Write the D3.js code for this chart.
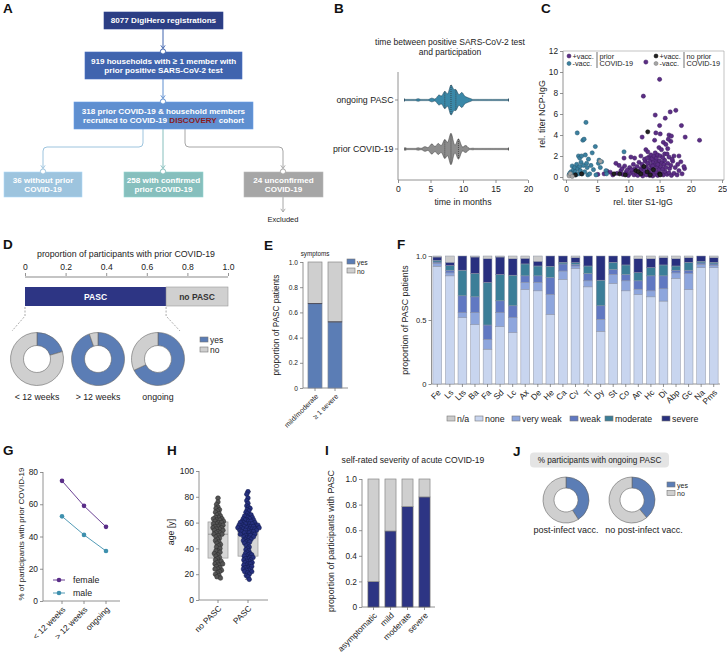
<!DOCTYPE html>
<html><head><meta charset="utf-8">
<script src="https://cdn.jsdelivr.net/npm/d3@7"></script>
<style>
body{margin:0;background:#fff}
svg{display:block;font-family:"Liberation Sans",Arial,sans-serif;-webkit-font-smoothing:antialiased}
</style></head><body>
<svg id="fig" width="727" height="655"></svg>
<script>
// ================= DATA =================
const flowLines = [
  ["8077 DigiHero registrations"],
  ["919 households with \u2265 1 member with", "prior positive SARS-CoV-2 test"],
  ["318 prior COVID-19 & household members", "recruited to COVID-19 |DISCOVERY| cohort"],
  ["36 without prior", "COVID-19"],
  ["258 with confirmed", "prior COVID-19"],
  ["24 unconfirmed", "COVID-19"]
];
const excludedLabel = "Excluded";

const bTitle = ["time between positive SARS-CoV-2 test", "and participation"];
const violinGroups = ["ongoing PASC", "prior COVID-19"];
const ongoingMonths = [1.0, 3.1, 4.2, 5.2, 6.3, 7.2, 8.15, 8.9, 9.8, 10.5, 11.1, 13, 17];
const ongoingCounts = [1, 2, 1, 3, 8, 14, 24, 16, 12, 4, 2, 0.5, 0.5];
const priorMonths = [1.05, 2.1, 3.1, 4.15, 5.2, 6.2, 7.2, 8.15, 9.3, 10.4, 11.5, 12.5, 14, 15.5, 17];
const priorCounts = [3, 1, 3, 6, 13, 14, 24, 40, 26, 9, 2, 1.5, 1, 0.5, 0.5];
const bTicks = [0, 5, 10, 15, 20];

const cPriorVacc = [[5.1,0.25],[6.1,0.3],[6.6,0.55],[7.1,0.45],[7.5,0.2],[8.2,0.35],[8.8,0.6],[9.1,0.25],[9.6,0.45],[10.0,0.15],[10.3,0.35],[10.6,0.55],[10.9,0.2],[11.3,0.3],[11.5,0.15],[11.8,0.45],[12.1,0.25],[12.3,0.1],[12.6,0.35],[12.9,0.2],[13.2,0.5],[13.4,0.15],[13.7,0.35],[13.9,0.1],[14.2,0.25],[14.5,0.45],[14.7,0.15],[15.3,0.35],[15.6,0.2],[15.9,0.5],[16.2,0.25],[16.5,0.4],[16.9,0.15],[17.3,0.35],[17.8,0.2],[18.6,0.3],[19.0,0.8],[18.9,1.0],[18.1,0.6],
  [8.0,1.3],[8.5,1.1],[9.0,0.8],[9.4,1.05],[10.2,0.9],[10.8,1.2],[11.0,0.75],[11.4,1.0],[11.7,1.4],[12.0,0.8],[12.2,1.2],[12.5,0.65],[12.7,1.5],[12.9,0.95],[13.1,1.3],[13.3,0.7],[13.5,1.55],[13.6,1.1],[13.8,0.85],[14.0,1.4],[14.1,0.65],[14.3,1.15],[14.4,1.6],[14.6,0.9],[14.8,1.3],[14.9,0.7],[15.0,1.55],[15.2,1.0],[15.4,1.35],[15.5,0.75],[15.7,1.2],[15.8,1.6],[16.0,0.9],[16.3,1.3],[16.6,0.8],[16.8,1.1],[17.1,1.5],[17.5,0.9],[17.9,1.2],[18.4,1.45],[12.4,0.95],[13.9,1.05],[14.7,1.2],[11.9,0.6],[10.5,0.7],[9.8,0.65],
  [9.3,1.8],[10.4,1.9],[11.0,1.8],[12.0,2.0],[12.6,1.7],[12.8,2.6],[13.1,2.4],[13.3,1.9],[13.6,2.1],[13.8,1.75],[14.1,2.0],[14.3,2.3],[14.5,1.8],[14.7,2.1],[14.9,2.8],[15.1,2.0],[15.3,2.6],[15.5,1.85],[15.8,2.2],[16.2,2.2],[16.3,2.7],[16.5,1.9],[17.3,2.0],[18.1,2.0],[17.0,1.7],[13.0,1.8],
  [15.0,9.3],[12.4,7.7],[17.6,6.35],[16.7,6.2],[15.9,5.6],[14.3,5.9],[18.5,4.9],[15.0,4.9],[19.1,3.8],[21.4,3.5],[12.2,3.8],[14.4,4.2],[15.1,4.1],[16.5,4.0],[16.9,3.9],[14.2,3.5],[15.6,3.3],[16.0,3.1],[16.8,3.4],[16.4,3.6],[12.8,10.95]];
const cPriorUnvacc = [[0.5,0.2],[0.6,0.35],[0.8,0.5],[0.9,0.15],[1.0,1.05],[1.1,0.4],[1.2,0.7],[1.3,0.25],[1.4,0.9],[1.5,0.5],[1.6,0.2],[1.7,1.2],[1.8,4.2],[1.9,0.8],[2.0,2.0],[2.1,0.3],[2.2,1.0],[2.2,1.8],[2.3,0.6],[2.4,1.4],[2.5,2.0],[2.6,0.3],[2.7,3.5],[2.8,1.1],[2.9,3.6],[3.0,0.5],[3.1,2.1],[3.2,5.2],[3.3,1.3],[3.4,0.9],[3.5,0.2],[3.6,1.7],[3.8,0.3],[4.0,1.1],[4.2,2.3],[4.4,0.7],[4.7,2.9],[4.8,0.2],[5.2,1.3],[5.3,1.6],[5.5,0.9],[5.7,1.45],[6.4,0.6],[6.5,0.3],[9.3,2.4]];
const cNoPriorVacc = [[1.5,0.2],[2.5,0.3],[7.7,0.3],[8.6,0.3],[9.5,0.2],[11.2,0.6],[11.6,0.5],[12.0,0.3],[12.5,1.0],[13.0,0.5],[13.1,4.3],[13.5,0.2],[14.0,0.7],[15.0,0.3],[15.1,0.2]];
const cNoPriorUnvacc = [[0.5,0.1],[0.7,0.3],[1.0,0.05],[5.5,1.5]];
const cXTicks = [0, 5, 10, 15, 20, 25];
const cYTicks = [0, 2, 4, 6, 8, 10, 12];

const dTitle = "proportion of participants with prior COVID-19";
const dTicks = [0, 0.2, 0.4, 0.6, 0.8, 1.0];
const dPascShare = 0.695;
const dBarLabels = ["PASC", "no PASC"];
const dDonutLabels = ["< 12 weeks", "> 12 weeks", "ongoing"];
const dYes = [0.205, 0.947, 0.68];
const dNo = [0.795, 0.053, 0.32];

const eCats = ["mild/moderate", "\u2265 1 severe"];
const eYes = [0.67, 0.525];
const eNo = [0.33, 0.475];
const eTicks = [0, 0.2, 0.4, 0.6, 0.8, 1.0];

const fCats = ["Fe","Ls","Lts","Ba","Fa","Sd","Lc","Ax","De","He","Ca","Cv","Ti","Dy","St","Co","An","Hc","Di","Abp","Gc","Na","Pms"];
const fNone     = [.920,.845,.518,.464,.272,.448,.402,.738,.728,.544,.816,.902,.759,.412,.785,.728,.699,.681,.648,.824,.738,.909,.909];
const fVeryWeak = [.023,.023,.039,.093,.075,.109,.116,.055,.065,.155,.067,.020,.047,.093,.070,.078,.042,.047,.096,.044,.125,.026,.018];
const fWeak     = [.010,.021,.132,.124,.114,.093,.093,.052,.052,.133,.055,.013,.057,.106,.039,.049,.065,.117,.101,.021,.026,.011,.011];
const fModerate = [.013,.036,.200,.182,.332,.205,.239,.093,.077,.088,.013,.013,.059,.200,.057,.075,.064,.064,.085,.033,.062,.013,.013];
const fSevere   = [.026,.026,.111,.129,.186,.137,.129,.044,.037,.080,.049,.039,.078,.189,.049,.070,.109,.070,.057,.057,.036,.041,.036];
const fNA       = [.008,.049,.000,.008,.021,.008,.021,.018,.041,.000,.000,.013,.000,.000,.000,.000,.021,.021,.013,.021,.013,.000,.013];
const fSeriesNames = ["n/a", "none", "very weak", "weak", "moderate", "severe"];
const fTicks = [0, 0.5, 1.0];

const gCats = ["< 12 weeks", "> 12 weeks", "ongoing"];
const gFemale = [74.5, 59, 46];
const gMale = [52.5, 41, 31];
const gSeriesNames = ["female", "male"];
const gTicks = [0, 20, 40, 60, 80];

const hCats = ["no PASC", "PASC"];
const hAgeNoPasc = [17,18,19,20,21,22,23,24,24,25,26,27,28,28,29,30,30,31,32,33,34,35,36,37,38,38,40,41,42,43,44,45,46,47,48,49,50,51,51,52,52,53,54,54,55,55,56,56,57,57,58,58,59,59,60,60,61,61,62,62,63,63,64,64,65,66,67,68,69,70,71,72,74,76,79];
const hAgePasc = [16,18,19,20,21,22,22,23,23,24,24,25,25,26,26,27,27,28,28,29,29,30,30,31,31,32,32,33,33,34,34,35,35,36,36,37,38,39,40,41,42,43,44,45,45,46,46,47,47,48,48,49,49,50,50,50,51,51,51,52,52,52,53,53,53,54,54,54,54,55,55,55,55,56,56,56,56,57,57,57,57,58,58,58,58,59,59,59,59,60,60,60,61,61,61,62,62,62,63,63,64,64,65,65,66,66,67,68,69,70,71,72,73,75,77,79,82,84];
const hTicks = [0, 20, 40, 60, 80, 100];

const iTitle = "self-rated severity of acute COVID-19";
const iCats = ["asymptomatic", "mild", "moderate", "severe"];
const iYes = [0.198, 0.594, 0.784, 0.86];
const iNo = [0.802, 0.406, 0.216, 0.14];
const iTicks = [0, 0.2, 0.4, 0.6, 0.8, 1.0];

const jTitle = "% participants with ongoing PASC";
const jLabels = ["post-infect vacc.", "no post-infect vacc."];
const jYes = [0.41, 0.39];
const jNo = [0.59, 0.61];

// ================= HELPERS =================
const svg = d3.select("#fig");
svg.append("rect").attr("width", 727).attr("height", 655).attr("fill", "#fff");
const AX = "#777", TXT = "#222";
const YES = "#5b7db5", NO = "#cfcfcf", NAVY = "#2d3584";

function line(x1, y1, x2, y2, c = AX, w = 0.8, dash = null) {
  const l = svg.append("line").attr("x1", x1).attr("y1", y1).attr("x2", x2).attr("y2", y2)
    .attr("stroke", c).attr("stroke-width", w);
  if (dash) l.attr("stroke-dasharray", dash);
  return l;
}
function txt(x, y, s, o = {}) {
  const t = svg.append("text").attr("x", x).attr("y", y).text(s)
    .attr("font-size", o.fs || 8.8).attr("fill", o.fill || TXT)
    .attr("text-anchor", o.anchor || "start");
  if (o.bold) t.attr("font-weight", "bold");
  if (o.rot) t.attr("transform", `rotate(${o.rot},${x},${y})`);
  return t;
}
function letter(x, y, s) { txt(x, y, s, { fs: 13.5, bold: true, fill: "#111" }); }
function styleAxis(fs) {
  return g => {
    g.select(".domain").remove();
    g.selectAll(".tick line").attr("stroke", AX).attr("stroke-width", 0.8);
    g.selectAll(".tick text").attr("fill", TXT).attr("font-size", fs).attr("font-family", '"Liberation Sans",Arial,sans-serif');
  };
}
function rotLabels(cats, xs, y, fs) {
  cats.forEach(c => {
    svg.append("text").text(c).attr("font-size", fs).attr("fill", TXT).attr("text-anchor", "end")
      .attr("dy", "0.35em")
      .attr("transform", `translate(${xs(c) + 2},${y}) rotate(-45)`);
  });
}
function legendSq(x, y, color, label, fs) {
  svg.append("rect").attr("x", x).attr("y", y - 3).attr("width", 8).attr("height", 5)
    .attr("fill", color).attr("stroke", "#777").attr("stroke-width", 0.6);
  txt(x + 10, y + 2.6, label, { fs });
}
function donut(cx, cy, ro, ri, yes, no) {
  const pie = d3.pie().sort(null).value(d => d.v);
  const arc = d3.arc().innerRadius(ri).outerRadius(ro);
  const g = svg.append("g").attr("transform", `translate(${cx},${cy})`);
  g.selectAll("path").data(pie([{ v: yes, c: YES }, { v: no, c: NO }])).join("path")
    .attr("d", arc).attr("fill", d => d.data.c).attr("stroke", "#666").attr("stroke-width", 0.6);
}
const fmt1 = d => d === 0 ? "0" : d3.format(".1f")(d);

// ================= PANEL A =================
letter(3, 13, "A");
function flowBox(x, y, w, h, fill, lines) {
  svg.append("rect").attr("x", x).attr("y", y).attr("width", w).attr("height", h).attr("fill", fill)
    .attr("stroke", d3.color(fill).brighter(0.3)).attr("stroke-width", 0.6);
  const cx = x + w / 2;
  const base = y + h / 2 - (lines.length - 1) * 4.5 + 2.9;
  lines.forEach((s, i) => {
    const t = svg.append("text").attr("x", cx).attr("y", base + i * 9).attr("text-anchor", "middle")
      .attr("font-size", 8.1).attr("font-weight", "bold").attr("fill", "#fff");
    s.split("|").forEach((p, k) => t.append("tspan").text(p).attr("fill", k === 1 ? "#8b1a1a" : "#fff"));
  });
}
function joint(x, y, c) {
  svg.append("circle").attr("cx", x).attr("cy", y).attr("r", 2.6).attr("fill", "#fff").attr("stroke", c).attr("stroke-width", 1);
}
function arrowHead(x, y, c) {
  svg.append("path").attr("d", `M${x - 2.2},${y - 3.2}L${x},${y}L${x + 2.2},${y - 3.2}`).attr("fill", "none").attr("stroke", c).attr("stroke-width", 0.9);
}
const fc = ["#2c3e84", "#4064ae", "#5f8fd0", "#9dc4de", "#86bfbd", "#a6a6a6"];
line(163, 29, 163, 48.5, fc[1], 1); arrowHead(163, 48.5, fc[1]);
line(163, 79, 163, 98.5, fc[2], 1); arrowHead(163, 98.5, fc[2]);
svg.append("path").attr("d", "M143,129 V143 Q143,147 139,147 H47 Q43,147 43,151 V168.5").attr("fill", "none").attr("stroke", fc[3]).attr("stroke-width", 1);
arrowHead(43, 168.5, fc[3]);
line(163, 129, 163, 168.5, fc[4], 1); arrowHead(163, 168.5, fc[4]);
svg.append("path").attr("d", "M185,129 V143 Q185,147 189,147 H279 Q283,147 283,151 V168.5").attr("fill", "none").attr("stroke", fc[5]).attr("stroke-width", 1);
arrowHead(283, 168.5, fc[5]);
line(283, 197, 283, 212, fc[5], 1); arrowHead(283, 212, fc[5]);
flowBox(104, 12, 119, 17, fc[0], flowLines[0]);
flowBox(85, 52, 157, 27, fc[1], flowLines[1]);
flowBox(74, 102, 179, 27, fc[2], flowLines[2]);
flowBox(4, 172, 78, 25, fc[3], flowLines[3]);
flowBox(124, 172, 79, 25, fc[4], flowLines[4]);
flowBox(244, 172, 79, 25, fc[5], flowLines[5]);
joint(163, 51.5, fc[1]); joint(163, 101.5, fc[2]);
joint(43, 171.5, fc[3]); joint(163, 171.5, fc[4]); joint(283, 171.5, fc[5]);
txt(283, 222, excludedLabel, { fs: 7.5, anchor: "middle" });

// ================= PANEL B =================
letter(334, 13, "B");
txt(450, 45, bTitle[0], { anchor: "middle", fs: 8.5 });
txt(450, 54.5, bTitle[1], { anchor: "middle", fs: 8.5 });
const xB = d3.scaleLinear().domain([0, 20]).range([398, 528]);
const yB = d3.scalePoint().domain(violinGroups).range([100, 149]);
line(398, 72, 398, 180); line(398, 180, 528, 180);
violinGroups.forEach(g => { line(395, yB(g), 398, yB(g)); txt(393.5, yB(g) + 3, g, { anchor: "end" }); });
svg.append("g").attr("transform", "translate(0,180)")
  .call(d3.axisBottom(xB).tickValues(bTicks).tickSize(3).tickPadding(3).tickFormat(d3.format("d"))).call(styleAxis(8.6));
txt(463, 205, "time in months", { anchor: "middle" });
function violin(months, counts, cy, maxW, fill, stroke, quart) {
  const bw = 0.3;
  const dens = x => d3.sum(months, (m, i) => counts[i] * Math.exp(-0.5 * ((x - m) / bw) ** 2));
  const lo = d3.min(months), hi = d3.max(months);
  const xs = d3.range(lo, hi + 0.001, 0.04);
  const vals = xs.map(x => [x, dens(x)]);
  const mx = d3.max(vals, d => d[1]);
  const w = v => Math.max(v / mx * maxW, 0.6);
  const area = d3.area().x(d => xB(d[0])).y0(d => cy - w(d[1])).y1(d => cy + w(d[1])).curve(d3.curveBasis);
  svg.append("path").attr("d", area(vals)).attr("fill", fill).attr("stroke", stroke).attr("stroke-width", 0.6);
  quart.forEach(q => { const h = w(dens(q)); line(xB(q), cy - h, xB(q), cy + h, "#333", 0.7, "1,1"); });
  line(xB(lo), cy - 1.5, xB(lo), cy + 1.5, stroke, 0.8);
  line(xB(hi), cy - 1.5, xB(hi), cy + 1.5, stroke, 0.8);
}
violin(ongoingMonths, ongoingCounts, yB(violinGroups[0]), 15, "#3a88a8", "#24465a", [7.2, 8.15, 8.9]);
violin(priorMonths, priorCounts, yB(violinGroups[1]), 15.5, "#8c8c8c", "#444", [7.2, 8.15, 9.3]);

// ================= PANEL C =================
letter(541, 13, "C");
const xC = d3.scaleLinear().domain([0, 25]).range([566, 722]);
const yC = d3.scaleLinear().domain([0, 12]).range([177, 51]);
line(563, 51, 563, 180); line(563, 180, 724, 180);
line(563, 51, 724, 51, "#aaa", 0.7); line(724, 51, 724, 180, "#aaa", 0.7);
svg.append("g").attr("transform", "translate(563,0)").call(d3.axisLeft(yC).tickValues(cYTicks).tickSize(3).tickPadding(2)).call(styleAxis(8.3));
svg.append("g").attr("transform", "translate(0,180)").call(d3.axisBottom(xC).tickValues(cXTicks).tickSize(3).tickPadding(3)).call(styleAxis(8.3));
txt(545, 114, "rel. titer NCP-IgG", { anchor: "middle", rot: -90 });
txt(643, 205, "rel. titer S1-IgG", { anchor: "middle" });
function dots(data, fill, stroke) {
  svg.append("g").selectAll("circle").data(data).join("circle")
    .attr("cx", d => xC(d[0])).attr("cy", d => yC(d[1])).attr("r", 2.1)
    .attr("fill", fill).attr("stroke", stroke).attr("stroke-width", 0.5);
}
const cCol = { pv: ["#5c2e86", "#3a1a5c"], pu: ["#3c81a0", "#22556c"], nv: ["#222", "#000"], nu: ["#a5a5a5", "#777"] };
dots(cPriorVacc, ...cCol.pv);
dots(cPriorUnvacc, ...cCol.pu);
dots(cNoPriorVacc, ...cCol.nv);
dots(cNoPriorUnvacc, ...cCol.nu);
function cLeg(x, y, col, label) {
  svg.append("circle").attr("cx", x).attr("cy", y).attr("r", 2).attr("fill", col[0]).attr("stroke", col[1]).attr("stroke-width", 0.5);
  txt(x + 3.5, y + 2.6, label, { fs: 7.3 });
}
cLeg(569, 56, cCol.pv, "+vacc."); cLeg(569, 63.5, cCol.pu, "-vacc.");
line(597, 52, 597, 68, "#333", 0.7);
txt(599.5, 58.5, "prior", { fs: 7.3 }); txt(599.5, 66, "COVID-19", { fs: 7.3 });
cLeg(656, 56, cCol.nv, "+vacc."); cLeg(656, 63.5, cCol.nu, "-vacc.");
line(684, 52, 684, 68, "#333", 0.7);
txt(686.5, 58.5, "no prior", { fs: 7.3 }); txt(686.5, 66, "COVID-19", { fs: 7.3 });

// ================= PANEL D =================
letter(3, 249, "D");
txt(126, 257, dTitle, { anchor: "middle" });
const xD = d3.scaleLinear().domain([0, 1]).range([25, 228]);
line(25, 277, 228, 277, "#c4c4c4", 2.2);
svg.append("g").attr("transform", "translate(0,276)")
  .call(d3.axisTop(xD).tickValues(dTicks).tickSize(3).tickPadding(3).tickFormat(fmt1))
  .call(styleAxis(8.6));
svg.append("rect").attr("x", xD(0)).attr("y", 287).attr("width", xD(dPascShare) - xD(0)).attr("height", 19).attr("fill", NAVY);
svg.append("rect").attr("x", xD(dPascShare)).attr("y", 287).attr("width", xD(1) - xD(dPascShare)).attr("height", 19).attr("fill", "#d0d0d0").attr("stroke", "#999").attr("stroke-width", 0.6);
txt((xD(0) + xD(dPascShare)) / 2, 300, dBarLabels[0], { fs: 8.5, bold: true, fill: "#fff", anchor: "middle" });
txt((xD(dPascShare) + xD(1)) / 2, 300, dBarLabels[1], { fs: 8.5, bold: true, fill: "#333", anchor: "middle" });
svg.append("path").attr("d", `M${xD(0)},307 V316 L12,331`).attr("fill", "none").attr("stroke", "#888").attr("stroke-width", 0.7).attr("stroke-dasharray", "2,1.5");
svg.append("path").attr("d", `M${xD(dPascShare)},307 V316 L180,331`).attr("fill", "none").attr("stroke", "#888").attr("stroke-width", 0.7).attr("stroke-dasharray", "2,1.5");
const dCx = [37, 98, 158];
dDonutLabels.forEach((l, i) => {
  donut(dCx[i], 359, 26.5, 13.5, dYes[i], dNo[i]);
  txt(dCx[i], 400, l, { anchor: "middle" });
});
legendSq(200, 340, YES, "yes", 8.5); legendSq(200, 350, NO, "no", 8.5);

// ================= PANEL E =================
letter(264, 250, "E");
txt(315, 256, "symptoms", { anchor: "middle", fs: 6.3 });
const yE = d3.scaleLinear().domain([0, 1]).range([388, 262]);
const xE = d3.scaleBand().domain(eCats).range([305, 345]).paddingInner(0.3).paddingOuter(0.15);
line(303, 262, 303, 388); line(303, 388, 348, 388);
svg.append("g").attr("transform", "translate(303,0)")
  .call(d3.axisLeft(yE).tickValues(eTicks).tickSize(3).tickPadding(2).tickFormat(fmt1)).call(styleAxis(6.6));
eCats.forEach((c, i) => {
  svg.append("rect").attr("x", xE(c)).attr("y", yE(eYes[i])).attr("width", xE.bandwidth()).attr("height", yE(0) - yE(eYes[i])).attr("fill", YES).attr("stroke", "#7b8594").attr("stroke-width", 0.7);
  svg.append("rect").attr("x", xE(c)).attr("y", yE(eYes[i] + eNo[i])).attr("width", xE.bandwidth()).attr("height", yE(eYes[i]) - yE(eYes[i] + eNo[i])).attr("fill", NO).attr("stroke", "#888").attr("stroke-width", 0.7);
  line(xE(c), yE(eYes[i]), xE(c) + xE.bandwidth(), yE(eYes[i]), "#445", 0.9);
  line(xE(c) + xE.bandwidth() / 2, 388, xE(c) + xE.bandwidth() / 2, 391);
});
rotLabels(eCats, c => xE(c) + xE.bandwidth() / 2, 395, 7);
txt(279, 325, "proportion of PASC patients", { anchor: "middle", rot: -90, fs: 8.2 });
legendSq(347, 262, YES, "yes", 6.8); legendSq(347, 271, NO, "no", 6.8);

// ================= PANEL F =================
letter(397, 249, "F");
const yF = d3.scaleLinear().domain([0, 1]).range([384, 256]);
const xF = d3.scaleBand().domain(fCats).range([431, 720]).paddingInner(0.3).paddingOuter(0.15);
line(431.5, 256, 431.5, 384); line(431.5, 384, 720, 384);
svg.append("g").attr("transform", "translate(431.5,0)")
  .call(d3.axisLeft(yF).tickValues(fTicks).tickSize(3).tickPadding(2).tickFormat(fmt1)).call(styleAxis(7.6));
const fRows = fCats.map((c, i) => ({ cat: c, none: fNone[i], vw: fVeryWeak[i], weak: fWeak[i], mod: fModerate[i], sev: fSevere[i], na: fNA[i] }));
const fKeys = ["none", "vw", "weak", "mod", "sev", "na"];
const fColors = { na: "#cbcbcb", none: "#c8d5ef", vw: "#8ea6dd", weak: "#6078c2", mod: "#3b7e98", sev: "#28307f" };
const fStack = d3.stack().keys(fKeys)(fRows);
fStack.forEach(layer => {
  svg.append("g").selectAll("rect").data(layer).join("rect")
    .attr("x", d => xF(d.data.cat)).attr("y", d => yF(d[1])).attr("width", xF.bandwidth())
    .attr("height", d => Math.max(0, yF(d[0]) - yF(d[1])))
    .attr("fill", fColors[layer.key]).attr("stroke", "#8d93a3").attr("stroke-width", 0.5);
});
fCats.forEach(c => line(xF(c) + xF.bandwidth() / 2, 384, xF(c) + xF.bandwidth() / 2, 387));
rotLabels(fCats, c => xF(c) + xF.bandwidth() / 2, 391, 8.4);
txt(408, 320, "proportion of PASC patients", { anchor: "middle", rot: -90, fs: 8.9 });
const fLegX = [447, 475, 512, 570, 605, 662];
const fLegKeys = ["na", "none", "vw", "weak", "mod", "sev"];
fSeriesNames.forEach((n, i) => legendSq(fLegX[i], 419, fColors[fLegKeys[i]], n, 8.8));

// ================= PANEL G =================
letter(3, 455, "G");
const yG = d3.scaleLinear().domain([0, 80]).range([601, 472]);
const xG = d3.scalePoint().domain(gCats).range([51, 117]).padding(0.5);
line(43, 472, 43, 601); line(43, 601, 120, 601);
svg.append("g").attr("transform", "translate(43,0)").call(d3.axisLeft(yG).tickValues(gTicks).tickSize(3).tickPadding(2)).call(styleAxis(8.4));
gCats.forEach(c => line(xG(c), 601, xG(c), 604));
rotLabels(gCats, c => xG(c), 608, 8.3);
txt(24, 534, "% of participants with prior COVID-19", { anchor: "middle", rot: -90, fs: 8 });
[[gFemale, "#5a2d88"], [gMale, "#3e90ae"]].forEach(([vals, col]) => {
  svg.append("path").attr("d", d3.line().x((d, i) => xG(gCats[i])).y(d => yG(d))(vals)).attr("fill", "none").attr("stroke", col).attr("stroke-width", 0.9);
  svg.append("g").selectAll("circle").data(vals).join("circle").attr("cx", (d, i) => xG(gCats[i])).attr("cy", d => yG(d)).attr("r", 2.3).attr("fill", col);
});
[["#5a2d88", 580], ["#3e90ae", 593]].forEach(([col, y], i) => {
  line(53, y, 65, y, col, 0.9);
  svg.append("circle").attr("cx", 59).attr("cy", y).attr("r", 2.3).attr("fill", col);
  txt(73, y + 3, gSeriesNames[i], { fs: 8.8 });
});

// ================= PANEL H =================
letter(167, 455, "H");
const yH = d3.scaleLinear().domain([0, 100]).range([600, 471]);
const xH = d3.scalePoint().domain(hCats).range([203, 263]).padding(0.5);
line(199, 471, 199, 600); line(199, 600, 268, 600);
svg.append("g").attr("transform", "translate(199,0)").call(d3.axisLeft(yH).tickValues(hTicks).tickSize(3).tickPadding(2)).call(styleAxis(8.5));
hCats.forEach(c => line(xH(c), 600, xH(c), 603));
rotLabels(hCats, c => xH(c), 607, 8.3);
txt(174, 532, "age [y]", { anchor: "middle", rot: -90 });
function beeswarm(vals, scale, dist) {
  const pts = vals.map(v => ({ v, y: scale(v) })).sort((a, b) => a.y - b.y);
  const placed = [];
  pts.forEach(p => {
    const iv = [];
    placed.forEach(q => { const dy = Math.abs(q.y - p.y); if (dy < dist) { const dx = Math.sqrt(dist * dist - dy * dy); iv.push([q.x - dx, q.x + dx]); } });
    const cands = [0]; iv.forEach(a => cands.push(a[0], a[1]));
    cands.sort((a, b) => Math.abs(a) - Math.abs(b));
    let x = 0;
    for (const c of cands) { if (iv.every(a => c <= a[0] + 1e-6 || c >= a[1] - 1e-6)) { x = c; break; } }
    p.x = x; placed.push(p);
  });
  return pts;
}
[[hAgeNoPasc, "#555", "#2a2a2a", 0.6], [hAgePasc, "#26307f", "#111a4a", 0.5]].forEach(([vals, fill, stroke, squeeze], i) => {
  const cx = xH(hCats[i]);
  const s = vals.slice().sort(d3.ascending);
  const q1 = d3.quantile(s, 0.25), med = d3.quantile(s, 0.5), q3 = d3.quantile(s, 0.75);
  svg.append("rect").attr("x", cx - 10).attr("y", yH(q3)).attr("width", 20).attr("height", yH(q1) - yH(q3)).attr("fill", "#d6d6d6").attr("stroke", "#999").attr("stroke-width", 0.7);
  line(cx - 10, yH(med), cx + 10, yH(med), "#888", 0.8);
  line(cx - 3, yH(d3.min(s)), cx + 3, yH(d3.min(s)), "#777", 0.7);
  line(cx - 3, yH(d3.max(s)), cx + 3, yH(d3.max(s)), "#777", 0.7);
  const sw = beeswarm(vals, yH, 3.6);
  svg.append("g").selectAll("circle").data(sw).join("circle").attr("cx", d => cx + d.x * squeeze).attr("cy", d => d.y).attr("r", 2.3)
    .attr("fill", fill).attr("stroke", stroke).attr("stroke-width", 0.5);
});

// ================= PANEL I =================
letter(325, 455, "I");
txt(413, 463, iTitle, { anchor: "middle", fs: 8.6 });
const yI = d3.scaleLinear().domain([0, 1]).range([607, 479]);
const xI = d3.scaleBand().domain(iCats).range([365, 433]).paddingInner(0.35).paddingOuter(0.175);
line(362, 479, 362, 607); line(362, 607, 435, 607);
svg.append("g").attr("transform", "translate(362,0)")
  .call(d3.axisLeft(yI).tickValues(iTicks).tickSize(3).tickPadding(2).tickFormat(fmt1)).call(styleAxis(8.3));
iCats.forEach((c, i) => {
  svg.append("rect").attr("x", xI(c)).attr("y", yI(iYes[i])).attr("width", xI.bandwidth()).attr("height", yI(0) - yI(iYes[i])).attr("fill", NAVY).attr("stroke", "#666").attr("stroke-width", 0.7);
  svg.append("rect").attr("x", xI(c)).attr("y", yI(iYes[i] + iNo[i])).attr("width", xI.bandwidth()).attr("height", yI(iYes[i]) - yI(iYes[i] + iNo[i])).attr("fill", NO).attr("stroke", "#888").attr("stroke-width", 0.7);
  line(xI(c) + xI.bandwidth() / 2, 607, xI(c) + xI.bandwidth() / 2, 610);
});
rotLabels(iCats, c => xI(c) + xI.bandwidth() / 2, 614, 8.3);
txt(334, 541, "proportion of participants with PASC", { anchor: "middle", rot: -90, fs: 8.9 });

// ================= PANEL J =================
letter(513, 456, "J");
svg.append("rect").attr("x", 530).attr("y", 452.5).attr("width", 139).attr("height", 15).attr("rx", 4).attr("fill", "#e4e4e4");
txt(599.5, 463, jTitle, { anchor: "middle", fs: 8.2 });
const jCx = [566, 632];
jLabels.forEach((l, i) => {
  donut(jCx[i], 500, 23, 12, jYes[i], jNo[i]);
  txt(jCx[i] + (i === 1 ? 12 : 0), 533, l, { anchor: "middle", fs: 9 });
});
legendSq(667, 485, YES, "yes", 7); legendSq(667, 493.5, NO, "no", 7);
</script></body></html>
